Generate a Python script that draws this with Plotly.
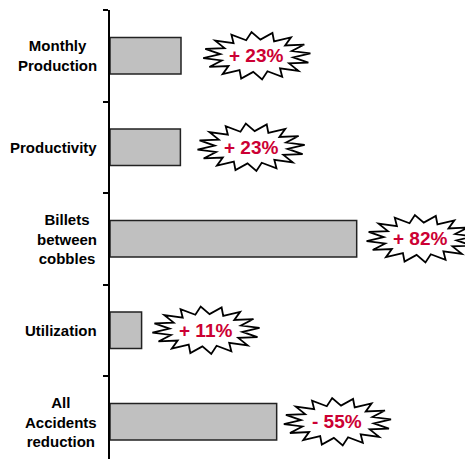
import numpy as np
import plotly.graph_objects as go

# ---- data ----
categories = ["Monthly<br>Production", "Productivity", "Billets<br>between<br>cobbles",
              "Utilization", "All<br>Accidents<br>reduction"]
values = [23.6, 23.4, 82.0, 10.5, 55.4]          # bar lengths (relative improvement)
badge_labels = ["+ 23%", "+ 23%", "+ 82%", "+ 11%", "- 55%"]
badge_offsets = [25.2, 23.5, 21.1, 21.4, 20.2]    # gap from bar end to badge centre (x units)

FONT = "Arial"
RED = "#CC0033"

ypos = list(range(len(categories)))

fig = go.Figure()
fig.add_trace(go.Bar(
    x=values, y=ypos, orientation="h", width=0.4,
    marker=dict(color="#C0C0C0", line=dict(color="#222222", width=1.5)),
    hoverinfo="skip", showlegend=False,
))

# starburst badges
n_pts = 16
rx, ry = 17.9, 0.26
inner = 0.68
shapes = []
annotations = []
for i, (v, lab, off) in enumerate(zip(values, badge_labels, badge_offsets)):
    cx, cy = v + off, ypos[i]
    pts = []
    for k in range(2 * n_pts):
        ang = np.pi / n_pts * k + np.pi / (2 * n_pts)
        r = 1.0 if k % 2 == 0 else inner
        pts.append((cx + rx * r * np.cos(ang), cy - ry * r * np.sin(ang)))
    path = "M " + " L ".join(f"{x:.4f},{y:.4f}" for x, y in pts) + " Z"
    shapes.append(dict(type="path", path=path, xref="x", yref="y",
                       fillcolor="white", line=dict(color="black", width=1.8),
                       layer="above"))
    annotations.append(dict(x=cx, y=cy, xref="x", yref="y", text=f"<b>{lab}</b>",
                            showarrow=False,
                            font=dict(family=FONT, size=19, color=RED, weight=900),
                            xanchor="center", yanchor="middle"))

# category labels (centred multi-line blocks, right edge near the axis)
for i, cat in enumerate(categories):
    annotations.append(dict(x=0, y=ypos[i], xref="paper", yref="y", text=f"<b>{cat}</b>",
                            showarrow=False, align="center", xanchor="right",
                            yanchor="middle", xshift=-11,
                            font=dict(family=FONT, size=15, color="black", weight=900)))

fig.update_layout(
    width=465, height=459,
    margin=dict(l=110, r=0, t=10, b=0),
    paper_bgcolor="white", plot_bgcolor="white",
    shapes=shapes, annotations=annotations,
    xaxis=dict(range=[0, 118], visible=False, fixedrange=True),
    yaxis=dict(range=[4.407, -0.5], showgrid=False, zeroline=False,
               showline=True, linecolor="black", linewidth=1.5,
               tickmode="array", tickvals=[-0.5, 0.5, 1.5, 2.5, 3.5],
               ticks="outside", ticklen=5, tickwidth=1.5, tickcolor="black",
               showticklabels=False, fixedrange=True),
    bargap=0.6,
)

fig.write_html("out.html")
